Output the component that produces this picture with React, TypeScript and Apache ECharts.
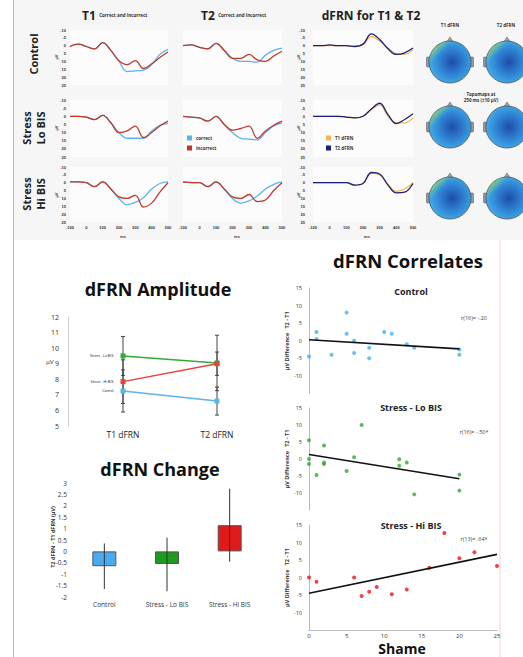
import React, { useEffect, useRef } from "react";
import * as echarts from "echarts";

// ---------- DATA ----------
const times = [-100, -50, 0, 50, 100, 150, 200, 250, 300, 350, 400, 450, 500];
const erpYTicks = [-10, 25];
// T1 correct / incorrect
const t1ControlCorrect = [0.5, -1, 0.5, 2, -2, 3, 10, 16.5, 16, 15.5, 12, 5.5, 2.3];
const t1ControlIncorrect = [0.5, -1, 0.5, 2, -2, 3, 9.5, 12, 9.5, 14.5, 11.5, 7.5, 4];
const t1LoCorrect = [0, 0, 0.5, 2, -0.5, 4, 10, 13.5, 13.5, 13.5, 9, 5.5, 4.5];
const t1LoIncorrect = [0, 0, 0.5, 2, -0.5, 4, 10, 9, 6, 13, 10, 6, 3];
const t1HiCorrect = [-0.5, -0.5, 0, 2.5, -0.5, 4, 10, 14, 12.5, 9.5, 4, 0.5, -0.5];
const t1HiIncorrect = [-0.5, -0.5, 0, 2.5, -0.5, 4, 9, 10, 8, 15.5, 13, 6, 0];
// T2 correct / incorrect
const t2ControlCorrect = [0, -0.5, 1, 2, -1.5, 3, 8, 10, 10, 10.5, 6, 3, 1.5];
const t2ControlIncorrect = [0, -0.5, 1, 2, -1.5, 3, 8, 8, 5.5, 9, 10, 6.5, 3.5];
const t2LoCorrect = [0, 0.5, 1, 3, 0, 5, 10, 13.5, 14, 14.5, 10, 6, 4];
const t2LoIncorrect = [0, 0.5, 1, 3, 0, 5, 8.5, 7.5, 6, 13.5, 9, 5.5, 3];
const t2HiCorrect = [-0.5, 0, 0, 2.5, -0.5, 4, 10, 13, 11.5, 8.5, 4, 1, -0.5];
const t2HiIncorrect = [-0.5, 0, 0, 2.5, -0.5, 4, 9, 10, 7.5, 12, 11, 5, 0];
// dFRN T1 / T2
const dfrnControlT1 = [0, 0, 0, 0, 0, 0.5, -0.5, -6, -3, 1.5, 5, 5.5, 2.5];
const dfrnControlT2 = [0, 0, -0.5, 0, 0, 0.5, -1, -7.5, -4, 2, 5.5, 4.5, 1.5];
const dfrnLoT1 = [0, 0, 0, 0, 0.5, 1, 0, -4, -7, 0, 4, 4, 1];
const dfrnLoT2 = [0, 0, 0, 0, 0.5, 1, 0, -4.5, -8, -1, 4.5, 2, -1.5];
const dfrnHiT1 = [0, 0, 0, 0, 0, 1.5, 0.5, -6, -5, 1, 5.5, 4, 0];
const dfrnHiT2 = [0, 0, 0, 0, 0, 1.5, 0.5, -6.5, -5.5, 1.5, 6.5, 6, 0.5];

// dFRN amplitude
const ampCategories = ["T1 dFRN", "T2 dFRN"];
const ampGroups = ["Stress - Lo BIS", "Stress - Hi BIS", "Control"];
const ampLo = [9.5, 9.05];
const ampHi = [7.85, 9.0];
const ampControl = [7.25, 6.6];
const ampLoErr = [1.25, 1.78];
const ampHiErr = [1.4, 0.75];
const ampControlErr = [1.35, 0.9];

// dFRN change
const changeCategories = ["Control", "Stress - Lo BIS", "Stress - Hi BIS"];
const changeValues = [-0.65, -0.55, 1.15];
const changeLow = [-1.65, -1.75, -0.45];
const changeHigh = [0.35, 0.6, 2.75];

// correlates (shame, µV difference)
const corrControl = [
  [0, -4.5], [1, 2.5], [1, 0.5], [3, -4], [5, 8], [5, 2], [6, 0], [6, -3.5],
  [8, -2], [8, -5], [10, 2.5], [11, 2], [13, -1], [14, -2], [20, -2.5], [20, -4],
];
const corrLo = [
  [0, 5.5], [0, 0], [0, -1.5], [1, -4.7], [2, 4], [2, -1], [2, -1.5], [5, -3.5],
  [6, 0.5], [7, 10], [12, -0.1], [12, -2], [13, -1], [14, -10.4], [20, -4.6], [20, -9.3],
];
const corrHi = [
  [0, 0], [1, -1.2], [6, 0], [7, -5.3], [8, -4.1], [9, -2.7], [11, -4.8],
  [13, -3.4], [16, 2.8], [18, 12.7], [20, 5.5], [22, 7.2], [25, 3.3],
];
const fitControl = [[0, 0.3], [20, -2.3]];
const fitLo = [[0, 1.3], [20, -5.8]];
const fitHi = [[0, -4.5], [25, 6.6]];
const corrLabels = ["r(16)= -.20", "r(16)= -.50*", "r(13)= .64*"];
const corrTitles = ["Control", "Stress - Lo BIS", "Stress - Hi BIS"];

// ---------- STYLE ----------
const BLUE = "#5ab4ea";
const RED = "#c0392b";
const ORANGE = "#f2b552";
const NAVY = "#1b1f7a";
const GREEN = "#35a83a";
const FONT = "'Open Sans', 'Noto Sans', sans-serif";

const cols = [
  { left: 70, width: 98 },
  { left: 183, width: 99 },
  { left: 313, width: 100 },
];
const rows = [
  { top: 30, height: 55 },
  { top: 100, height: 57 },
  { top: 167, height: 55 },
];

const erpSets = [
  [[t1ControlCorrect, t1ControlIncorrect], [t2ControlCorrect, t2ControlIncorrect], [dfrnControlT1, dfrnControlT2]],
  [[t1LoCorrect, t1LoIncorrect], [t2LoCorrect, t2LoIncorrect], [dfrnLoT1, dfrnLoT2]],
  [[t1HiCorrect, t1HiIncorrect], [t2HiCorrect, t2HiIncorrect], [dfrnHiT1, dfrnHiT2]],
];

function head(cx: number, cy: number, green: boolean) {
  const r = 21;
  const els: any[] = [
    { type: "rect", shape: { x: cx - r - 2.5, y: cy - 5, width: 3.5, height: 10, r: 1 }, style: { fill: "#8a9aa0", stroke: "#555", lineWidth: 0.5 }, z: 5 },
    { type: "rect", shape: { x: cx + r - 1, y: cy - 5, width: 3.5, height: 10, r: 1 }, style: { fill: "#8a9aa0", stroke: "#555", lineWidth: 0.5 }, z: 5 },
    { type: "polygon", shape: { points: [[cx - 4, cy - r + 2], [cx, cy - r - 4], [cx + 4, cy - r + 2]] }, style: { fill: "#9aa8a8", stroke: "#555", lineWidth: 0.5 }, z: 5 },
    {
      type: "circle",
      shape: { cx, cy, r },
      style: {
        fill: {
          type: "radial", x: 0.55, y: 0.5, r: 0.55,
          colorStops: [
            { offset: 0, color: "#1c4ea4" },
            { offset: 0.35, color: "#2a6ec6" },
            { offset: 0.75, color: "#3596dd" },
            { offset: 1, color: "#48aae2" },
          ],
        },
        stroke: "#4a5560",
        lineWidth: 0.8,
      },
      z: 6,
    },
  ];
  if (green) {
    els.push({
      type: "circle",
      shape: { cx, cy, r: r - 0.4 },
      style: {
        fill: {
          type: "linear", x: 0, y: 0, x2: 0.9, y2: 0.9,
          colorStops: [
            { offset: 0, color: "rgba(230,225,90,0.95)" },
            { offset: 0.18, color: "rgba(140,205,110,0.8)" },
            { offset: 0.32, color: "rgba(90,180,200,0)" },
            { offset: 1, color: "rgba(90,180,200,0)" },
          ],
        },
      },
      z: 7,
    });
  }
  return els;
}

function errorBarItem(capW: number, color: string) {
  return (params: any, api: any) => {
    const x = api.value(0);
    const lo = api.coord([x, api.value(1)]);
    const hi = api.coord([x, api.value(2)]);
    const st = { stroke: color, lineWidth: 1 };
    const ch: any[] = [{ type: "line", shape: { x1: lo[0], y1: lo[1], x2: hi[0], y2: hi[1] }, style: st }];
    if (capW > 0) {
      ch.push({ type: "line", shape: { x1: lo[0] - capW / 2, y1: lo[1], x2: lo[0] + capW / 2, y2: lo[1] }, style: st });
      ch.push({ type: "line", shape: { x1: hi[0] - capW / 2, y1: hi[1], x2: hi[0] + capW / 2, y2: hi[1] }, style: st });
    }
    return { type: "group", children: ch };
  };
}

function buildOption() {
  const grid: any[] = [];
  const xAxis: any[] = [];
  const yAxis: any[] = [];
  const series: any[] = [];

  // ERP grids
  rows.forEach((r, ri) => {
    cols.forEach((c, ci) => {
      const gi = grid.length;
      grid.push({ left: c.left, top: r.top, width: c.width, height: r.height, show: true, backgroundColor: "#fcfcfc", borderWidth: 0 });
      xAxis.push({
        gridIndex: gi, type: "value", min: -100, max: 500, interval: 100,
        axisLine: { show: false, onZero: false }, axisTick: { show: false }, splitLine: { show: false },
        axisLabel: { show: ri === 2, fontSize: 4, color: "#333", margin: 3, fontWeight: "bold" },
      });
      yAxis.push({
        gridIndex: gi, type: "value", inverse: true, min: erpYTicks[0], max: erpYTicks[1], interval: 5,
        axisLine: { show: false, onZero: false }, axisTick: { show: false }, splitLine: { show: false },
        axisLabel: { show: ci !== 1, fontSize: 4, color: "#333", margin: ci === 0 ? 4 : 8, fontWeight: "bold" },
      });
      const [a, b] = erpSets[ri][ci];
      const colA = ci === 2 ? ORANGE : BLUE;
      const colB = ci === 2 ? NAVY : RED;
      series.push({
        type: "line", xAxisIndex: gi, yAxisIndex: gi, smooth: 0.4, symbol: "none",
        data: times.map((t, i) => [t, a[i]]), lineStyle: { color: colA, width: 1.3 }, itemStyle: { color: colA },
      });
      series.push({
        type: "line", xAxisIndex: gi, yAxisIndex: gi, smooth: 0.4, symbol: "none",
        data: times.map((t, i) => [t, b[i]]), lineStyle: { color: colB, width: 1.3 }, itemStyle: { color: colB },
      });
    });
  });

  // Amplitude grid
  const ampGi = grid.length;
  grid.push({ left: 76, top: 317, width: 188, height: 109 });
  xAxis.push({
    gridIndex: ampGi, type: "category", data: ampCategories,
    axisLine: { show: false, onZero: false }, axisTick: { show: false },
    axisLabel: { fontSize: 8.5, color: "#222", margin: 4, fontFamily: FONT },
  });
  yAxis.push({
    gridIndex: ampGi, type: "value", min: 5, max: 12, interval: 1, offset: 8,
    axisLine: { show: true, onZero: false, lineStyle: { color: "#d0d0d0" } }, axisTick: { show: false }, splitLine: { show: false },
    axisLabel: { fontSize: 7, color: "#333", margin: 9, fontFamily: FONT },
  });
  const ampSets = [
    { name: ampGroups[0], v: ampLo, e: ampLoErr, c: GREEN },
    { name: ampGroups[1], v: ampHi, e: ampHiErr, c: "#e8403a" },
    { name: ampGroups[2], v: ampControl, e: ampControlErr, c: BLUE },
  ];
  ampSets.forEach((s) => {
    series.push({
      type: "custom", xAxisIndex: ampGi, yAxisIndex: ampGi, z: 1,
      data: s.v.map((v, i) => [i, v - s.e[i], v + s.e[i]]),
      renderItem: errorBarItem(4, "#444"),
    });
    series.push({
      type: "line", name: s.name, xAxisIndex: ampGi, yAxisIndex: ampGi, z: 3,
      symbol: "rect", symbolSize: 5,
      data: s.v.map((v, i) => ({
        value: v,
        label: i === 0 ? { show: true, position: "left", distance: 7, formatter: s.name, fontSize: 3.5, color: "#333" } : { show: false },
      })),
      lineStyle: { color: s.c, width: 1.5 }, itemStyle: { color: s.c },
    });
  });

  // Change grid
  const chGi = grid.length;
  grid.push({ left: 73, top: 483, width: 188, height: 114 });
  xAxis.push({
    gridIndex: chGi, type: "category", data: changeCategories,
    axisLine: { show: false, onZero: false }, axisTick: { show: false },
    axisLabel: { fontSize: 6.5, color: "#333", margin: 4, fontFamily: FONT },
  });
  yAxis.push({
    gridIndex: chGi, type: "value", min: -2, max: 3, interval: 0.5,
    axisLine: { show: false }, axisTick: { show: false }, splitLine: { show: false },
    axisLabel: { fontSize: 6.5, color: "#333", margin: 6, fontFamily: FONT },
  });
  const barColors = ["#4aaaf0", "#1e9a1e", "#e01a1a"];
  series.push({
    type: "bar", xAxisIndex: chGi, yAxisIndex: chGi, barWidth: 24,
    data: changeValues.map((v, i) => ({ value: v, itemStyle: { color: barColors[i], borderColor: "#555", borderWidth: 1 } })),
  });
  series.push({
    type: "custom", xAxisIndex: chGi, yAxisIndex: chGi, z: 5,
    data: changeValues.map((v, i) => [i, changeLow[i], changeHigh[i]]),
    renderItem: errorBarItem(0, "#333"),
  });

  // Correlates
  const corrGrids = [
    { top: 288, height: 105.5 },
    { top: 408, height: 102 },
    { top: 525, height: 105 },
  ];
  const corrData = [corrControl, corrLo, corrHi];
  const corrFits = [fitControl, fitLo, fitHi];
  const corrColors = ["#3fb0f0", GREEN, "#e8151b"];
  corrGrids.forEach((g, k) => {
    const gi = grid.length;
    grid.push({ left: 309, width: 188, top: g.top, height: g.height });
    xAxis.push({
      gridIndex: gi, type: "value", min: 0, max: 25, interval: 5,
      axisLine: { show: k === 2, onZero: false, lineStyle: { color: "#bbb" } }, axisTick: { show: false }, splitLine: { show: false },
      axisLabel: { show: k === 2, fontSize: 6, color: "#333", margin: 3, fontFamily: FONT },
    });
    yAxis.push({
      gridIndex: gi, type: "value", min: -15, max: 15, interval: 5,
      name: "µV Difference   T2 - T1", nameLocation: "middle", nameGap: 16,
      nameTextStyle: { fontSize: 5.5, color: "#333", fontWeight: "bold", fontFamily: FONT },
      axisLine: { show: true, onZero: false, lineStyle: { color: "#bbb" } }, axisTick: { show: false }, splitLine: { show: false },
      axisLabel: { fontSize: 5.5, color: "#333", margin: 7, fontFamily: FONT, formatter: (v: number) => (v === -15 ? "" : String(v)) },
    });
    series.push({
      type: "scatter", xAxisIndex: gi, yAxisIndex: gi, symbol: "circle", symbolSize: 4,
      data: corrData[k], itemStyle: { color: corrColors[k] },
    });
    series.push({
      type: "line", xAxisIndex: gi, yAxisIndex: gi, symbol: "none",
      data: corrFits[k], lineStyle: { color: "#111", width: 1.6 },
    });
  });

  const graphic: any[] = [
    { type: "rect", z: -10, shape: { x: 13, y: 0, width: 510, height: 240 }, style: { fill: "#f6f6f6" }, silent: true },
    { type: "line", shape: { x1: 13.5, y1: 0, x2: 13.5, y2: 657 }, style: { stroke: "#b8b8b8", lineWidth: 1 } },
    { type: "line", shape: { x1: 500, y1: 240, x2: 500, y2: 657 }, style: { stroke: "#f2d4da", lineWidth: 1 } },
    // headers
    {
      type: "text", x: 82, y: 15,
      style: { text: "{a|T1} {b|Correct and Incorrect}", verticalAlign: "middle", rich: { a: { fontSize: 12, fontWeight: "bold", fontFamily: FONT, fill: "#222" }, b: { fontSize: 4.5, fontWeight: "bold", fontFamily: FONT, fill: "#333" } } },
    },
    {
      type: "text", x: 201, y: 15,
      style: { text: "{a|T2} {b|Correct and Incorrect}", verticalAlign: "middle", rich: { a: { fontSize: 12, fontWeight: "bold", fontFamily: FONT, fill: "#222" }, b: { fontSize: 4.5, fontWeight: "bold", fontFamily: FONT, fill: "#333" } } },
    },
    { type: "text", x: 371, y: 15, style: { text: "dFRN for T1 & T2", fontSize: 12, fontWeight: "bold", fontFamily: FONT, fill: "#222", align: "center", verticalAlign: "middle" } },
    { type: "text", x: 450, y: 25, style: { text: "T1 dFRN", fontSize: 4.5, fontWeight: "bold", fontFamily: FONT, fill: "#333", align: "center", verticalAlign: "middle" } },
    { type: "text", x: 506, y: 25, style: { text: "T2 dFRN", fontSize: 4.5, fontWeight: "bold", fontFamily: FONT, fill: "#333", align: "center", verticalAlign: "middle" } },
    { type: "text", x: 481, y: 97, style: { text: "Topomaps at\n250 ms (±10 µV)", fontSize: 4.5, lineHeight: 6, fontWeight: "bold", fontFamily: FONT, fill: "#333", align: "center", verticalAlign: "middle" } },
    // row labels
    { type: "text", x: 33, y: 54, rotation: Math.PI / 2, style: { text: "Control", fontSize: 11, fontWeight: "bold", fontFamily: FONT, fill: "#222", align: "center", verticalAlign: "middle" } },
    { type: "text", x: 33, y: 128, rotation: Math.PI / 2, style: { text: "Stress\nLo BIS", fontSize: 11, lineHeight: 14, fontWeight: "bold", fontFamily: FONT, fill: "#222", align: "center", verticalAlign: "middle" } },
    { type: "text", x: 33, y: 194, rotation: Math.PI / 2, style: { text: "Stress\nHi BIS", fontSize: 11, lineHeight: 14, fontWeight: "bold", fontFamily: FONT, fill: "#222", align: "center", verticalAlign: "middle" } },
    // legends
    { type: "rect", shape: { x: 187, y: 135.5, width: 5, height: 5 }, style: { fill: BLUE } },
    { type: "text", x: 196, y: 138, style: { text: "correct", fontSize: 4.5, fontWeight: "bold", fontFamily: FONT, fill: "#333", verticalAlign: "middle" } },
    { type: "rect", shape: { x: 187, y: 145.5, width: 5, height: 5 }, style: { fill: RED } },
    { type: "text", x: 196, y: 148, style: { text: "incorrect", fontSize: 4.5, fontWeight: "bold", fontFamily: FONT, fill: "#333", verticalAlign: "middle" } },
    { type: "rect", shape: { x: 326, y: 135.5, width: 5, height: 5 }, style: { fill: ORANGE } },
    { type: "text", x: 335, y: 138, style: { text: "T1 dFRN", fontSize: 4.5, fontWeight: "bold", fontFamily: FONT, fill: "#333", verticalAlign: "middle" } },
    { type: "rect", shape: { x: 326, y: 145.5, width: 5, height: 5 }, style: { fill: NAVY } },
    { type: "text", x: 335, y: 148, style: { text: "T2 dFRN", fontSize: 4.5, fontWeight: "bold", fontFamily: FONT, fill: "#333", verticalAlign: "middle" } },
    // µV / ms labels
    ...[57, 128, 195].flatMap((y) => [
      { type: "text", x: 56, y, rotation: Math.PI / 2, style: { text: "µV", fontSize: 4, fontWeight: "bold", fill: "#333", align: "center", verticalAlign: "middle" } },
      { type: "text", x: 298, y, rotation: Math.PI / 2, style: { text: "µV", fontSize: 4, fontWeight: "bold", fill: "#333", align: "center", verticalAlign: "middle" } },
    ]),
    ...[123, 237, 367].map((x) => ({ type: "text", x, y: 236, style: { text: "ms", fontSize: 4, fontWeight: "bold", fill: "#333", align: "center", verticalAlign: "middle" } })),
    // lower titles
    { type: "text", x: 158, y: 289, style: { text: "dFRN Amplitude", fontSize: 18, fontWeight: "bold", fontFamily: FONT, fill: "#111", align: "center", verticalAlign: "middle" } },
    { type: "text", x: 160, y: 469, style: { text: "dFRN Change", fontSize: 18, fontWeight: "bold", fontFamily: FONT, fill: "#111", align: "center", verticalAlign: "middle" } },
    { type: "text", x: 408, y: 260, style: { text: "dFRN Correlates", fontSize: 18.5, fontWeight: "bold", fontFamily: FONT, fill: "#111", align: "center", verticalAlign: "middle" } },
    { type: "text", x: 50, y: 362, style: { text: "µV", fontSize: 6, fill: "#333", align: "center", verticalAlign: "middle" } },
    { type: "text", x: 53, y: 537, rotation: Math.PI / 2, style: { text: "T2 dFRN - T1 dFRN (µV)", fontSize: 5.5, fontWeight: "bold", fontFamily: FONT, fill: "#333", align: "center", verticalAlign: "middle" } },
    { type: "text", x: 402, y: 648, style: { text: "Shame", fontSize: 14, fontWeight: "bold", fontFamily: FONT, fill: "#111", align: "center", verticalAlign: "middle" } },
    // correlate titles and r labels
    ...[291, 407, 525].map((y, k) => ({ type: "text", x: 411, y, style: { text: corrTitles[k], fontSize: 9, fontWeight: "bold", fontFamily: FONT, fill: "#222", align: "center", verticalAlign: "middle" } })),
    ...[318, 432, 539].map((y, k) => ({ type: "text", x: 474, y, style: { text: corrLabels[k], fontSize: 5.5, fontFamily: FONT, fill: "#444", align: "center", verticalAlign: "middle" } })),
    // heads
    ...head(450, 62, true),
    ...head(507, 62, true),
    ...head(450, 127, true),
    ...head(507, 127, false),
    ...head(450, 198, true),
    ...head(507, 198, true),
  ];

  return {
    animation: false,
    backgroundColor: "#ffffff",
    grid, xAxis, yAxis, series, graphic,
  };
}

export default function App() {
  const ref = useRef<HTMLDivElement>(null);
  useEffect(() => {
    if (!ref.current) return;
    const chart = echarts.init(ref.current, undefined, { renderer: "svg" });
    chart.setOption(buildOption() as any);
    return () => chart.dispose();
  }, []);
  return <div ref={ref} style={{ position: "absolute", left: 0, top: 0, width: 523, height: 657 }} />;
}
